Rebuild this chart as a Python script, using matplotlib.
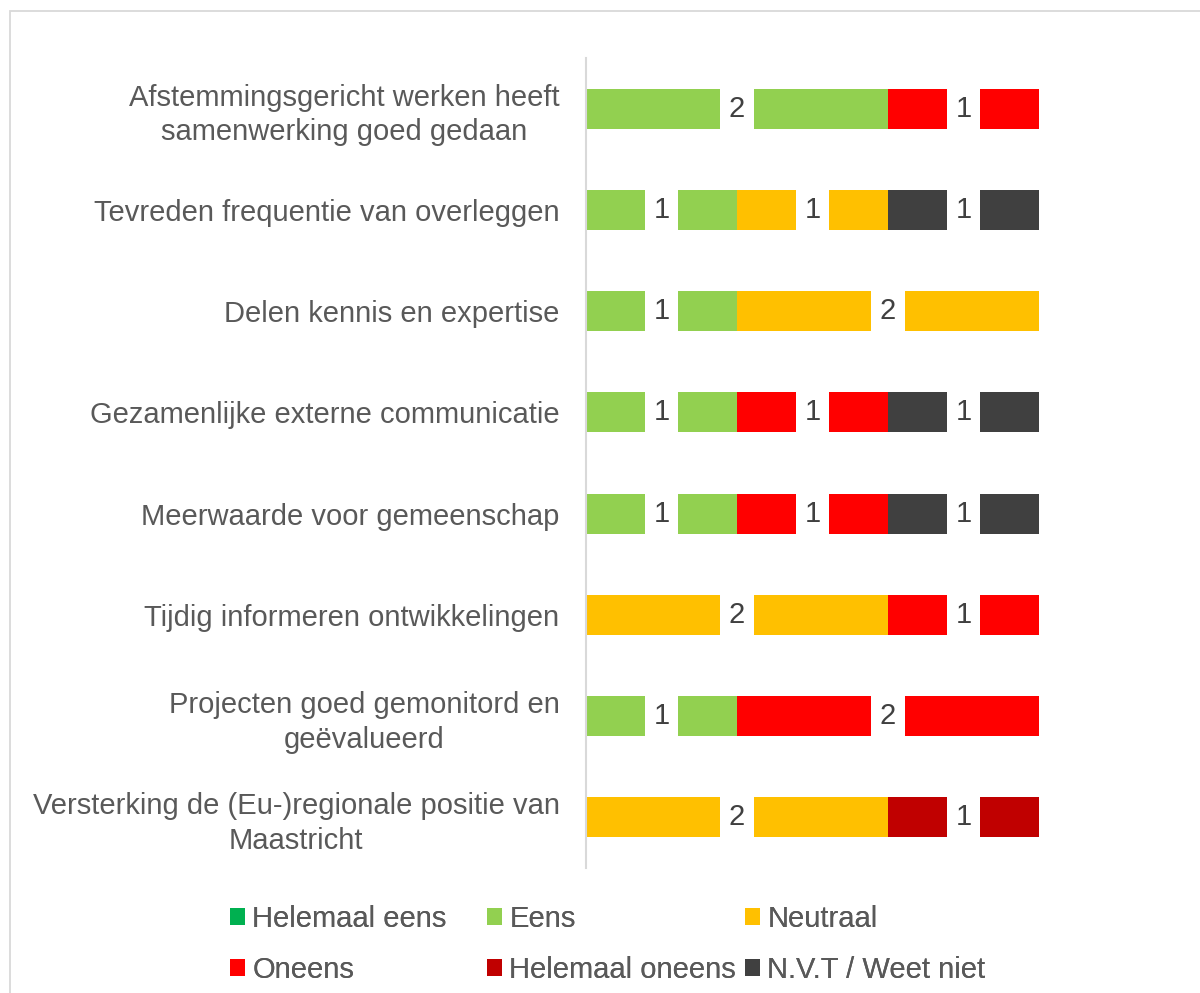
import numpy as np
import matplotlib
matplotlib.use("Agg")
import matplotlib.pyplot as plt
from matplotlib.patches import Rectangle
from matplotlib.transforms import ScaledTranslation

plt.rcParams['font.family'] = ['Liberation Sans', 'DejaVu Sans']

# categories, top to bottom
categories = [
    "Afstemmingsgericht werken heeft\nsamenwerking goed gedaan",
    "Tevreden frequentie van overleggen",
    "Delen kennis en expertise",
    "Gezamenlijke externe communicatie",
    "Meerwaarde voor gemeenschap",
    "Tijdig informeren ontwikkelingen",
    "Projecten goed gemonitord en\ngeëvalueerd",
    "Versterking de (Eu-)regionale positie van\nMaastricht",
]

series_names = ["Helemaal eens", "Eens", "Neutraal", "Oneens",
                "Helemaal oneens", "N.V.T / Weet niet"]
series_colors = ["#00B050", "#92D050", "#FFC000", "#FF0000", "#C00000", "#404040"]

helemaal_eens = [0, 0, 0, 0, 0, 0, 0, 0]
eens = [2, 1, 1, 1, 1, 0, 1, 0]
neutraal = [0, 1, 2, 0, 0, 2, 0, 2]
oneens = [1, 0, 0, 1, 1, 1, 2, 0]
helemaal_oneens = [0, 0, 0, 0, 0, 0, 0, 1]
nvt = [0, 1, 0, 1, 1, 0, 0, 0]

series_values = [helemaal_eens, eens, neutraal, oneens, helemaal_oneens, nvt]

TEXT = "#595959"
LABEL = "#404040"
GRID = "#D9D9D9"
FS = 21

fig = plt.figure(figsize=(12, 9.93), dpi=100)
ax = fig.add_axes([586 / 1200, 1 - 868 / 993, (1039 - 586) / 1200, (868 - 58) / 993])

# chart frame (runs off the right and bottom edge)
fig.patches.append(Rectangle((10 / 1200, -0.05), 1.2, 1 - 11 / 993 + 0.05,
                             transform=fig.transFigure, fill=False,
                             edgecolor=GRID, linewidth=1.3))

y = np.arange(len(categories))
left = np.zeros(len(categories))
handles = []
for name, vals, col in zip(series_names, series_values, series_colors):
    vals = np.array(vals, dtype=float)
    bars = ax.barh(y, vals, left=left, height=0.395, color=col, label=name)
    handles.append(bars)
    ax.bar_label(bars, labels=[str(int(v)) if v > 0 else "" for v in vals],
                 label_type='center', fontsize=FS, color=LABEL,
                 bbox=dict(boxstyle='square,pad=0.3', facecolor='white',
                           edgecolor='none'))
    left += vals

ax.set_xlim(0, 3)
ax.set_ylim(len(categories) - 0.5, -0.5)
ax.set_xticks([])
ax.set_yticks(y)
ax.set_yticklabels(categories, fontsize=FS, color=TEXT, linespacing=1.3)
shift = ScaledTranslation(0, 3 / 72, fig.dpi_scale_trans)
for lab in ax.get_yticklabels():
    lab.set_multialignment('center')
    lab.set_transform(lab.get_transform() + shift)
ax.tick_params(axis='y', length=0, pad=19)
for s in ['top', 'right', 'bottom']:
    ax.spines[s].set_visible(False)
ax.spines['left'].set_color(GRID)
ax.spines['left'].set_linewidth(1.5)

# legend: three equal-width columns like the original
col_x = [230 / 1200, 487 / 1200, 745 / 1200]
leg_y = 1 - 944.5 / 993
cols = [[0, 3], [1, 4], [2, 5]]
for cx, idx in zip(col_x, cols):
    leg = fig.legend([handles[i] for i in idx], [series_names[i] for i in idx],
                     loc='center left', bbox_to_anchor=(cx, leg_y),
                     frameon=False, fontsize=FS, handlelength=0.52,
                     handleheight=0.52, handletextpad=0.24, labelspacing=0.77,
                     borderpad=0, borderaxespad=0, labelcolor=TEXT)
    fig.add_artist(leg)

fig.savefig("out.png", dpi=100, facecolor='white')
